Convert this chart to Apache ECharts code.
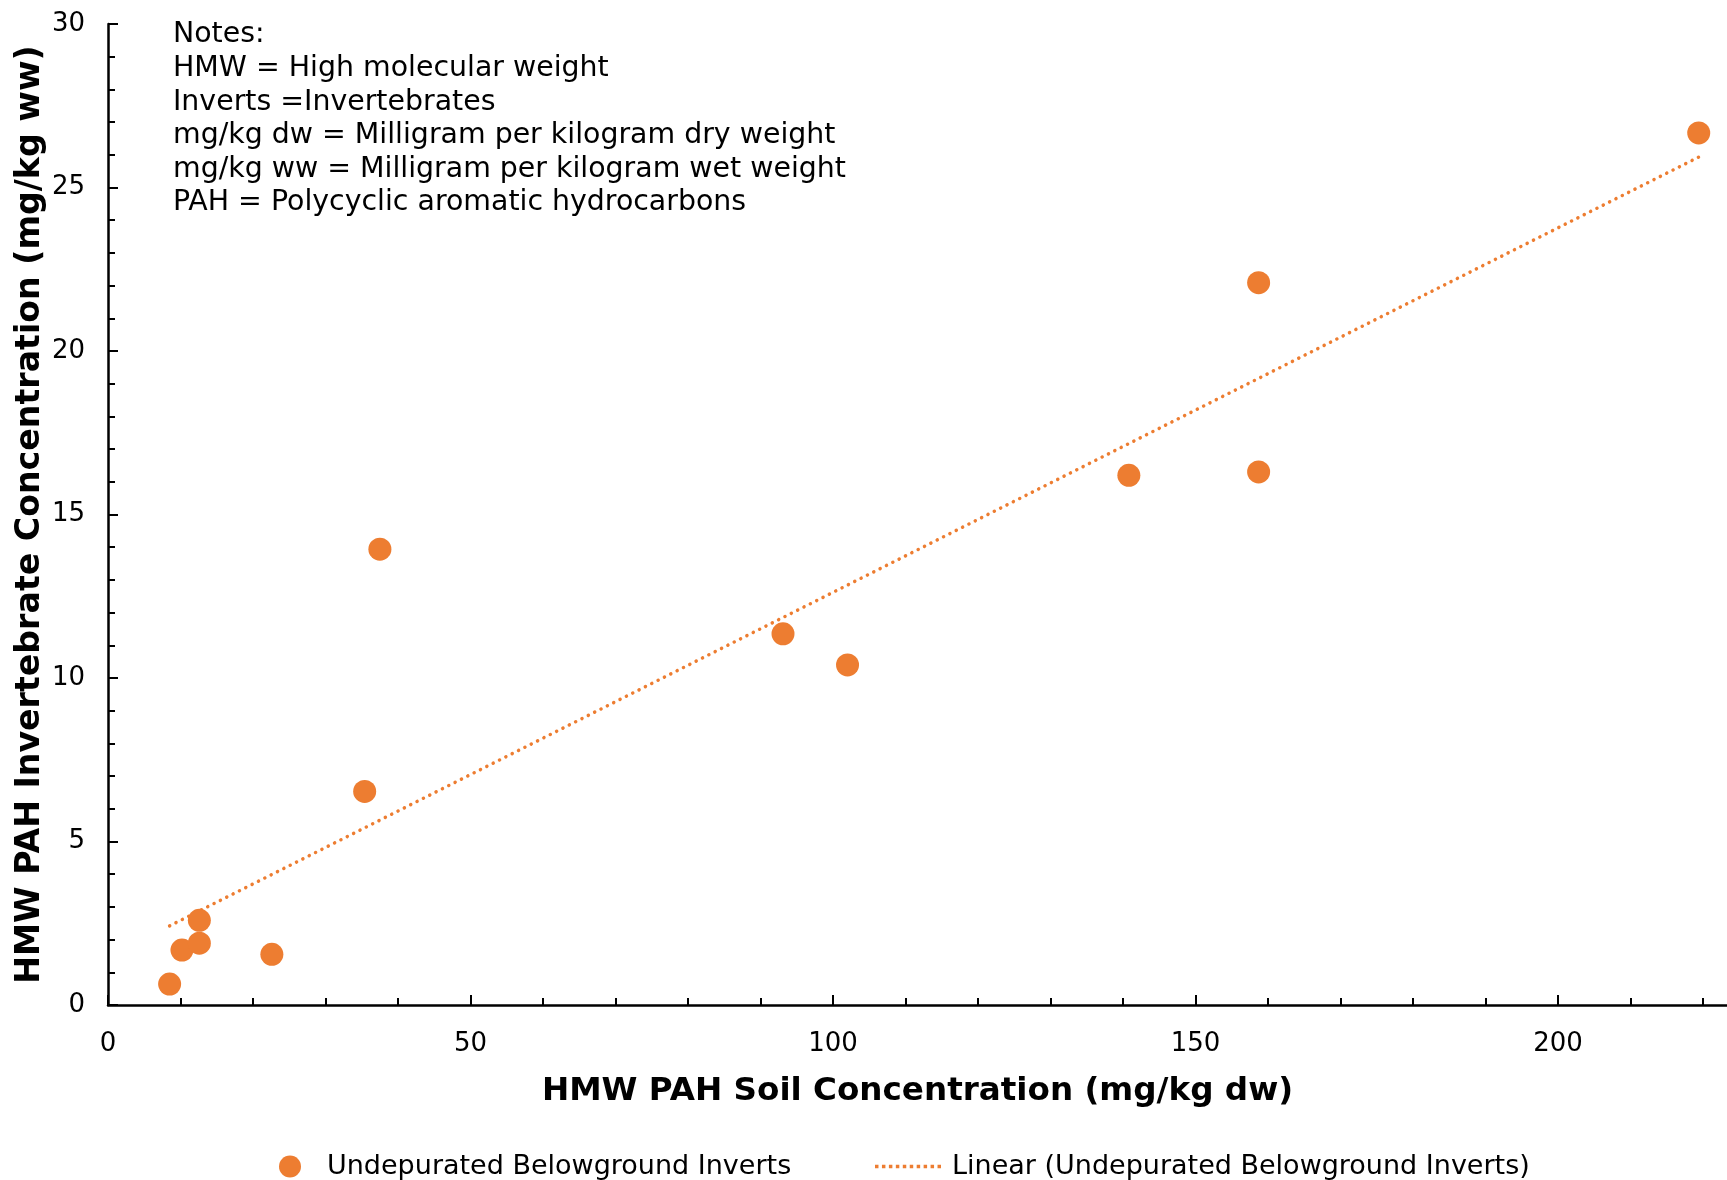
<!DOCTYPE html>
<html><head><meta charset="utf-8">
<script src="https://cdn.jsdelivr.net/npm/echarts@6/dist/echarts.min.js"></script>
<style>html,body{margin:0;padding:0;background:#fff}#c{width:1727px;height:1180px}</style>
</head><body><div id="c"></div>
<script>
const soilX = [8.5, 10.2, 12.6, 12.6, 22.6, 35.4, 37.5, 93.1, 102.0, 140.8, 158.7, 158.7, 219.4];
const invertY = [0.64, 1.68, 1.89, 2.59, 1.55, 6.53, 13.94, 11.35, 10.40, 16.2, 16.3, 22.09, 26.67];
const trendX = [8.5, 219.4];
const trendY = [2.42, 25.93];
const xMajorTicks = [0, 50, 100, 150, 200];
const xMinorTicks = [10, 20, 30, 40, 60, 70, 80, 90, 110, 120, 130, 140, 160, 170, 180, 190, 210, 220];
const seriesName = 'Undepurated Belowground Inverts';
const trendName = 'Linear (Undepurated Belowground Inverts)';
const notes = ['Notes:', 'HMW = High molecular weight', 'Inverts =Invertebrates',
  'mg/kg dw = Milligram per kilogram dry weight', 'mg/kg ww = Milligram per kilogram wet weight',
  'PAH = Polycyclic aromatic hydrocarbons'];
const xTitle = 'HMW PAH Soil Concentration (mg/kg dw)';
const yTitle = 'HMW PAH Invertebrate Concentration (mg/kg ww)';

const FONT = 'DejaVu Sans';
const ORANGE = '#ED7D31';
const X_MAX = 223.3;
const chart = echarts.init(document.getElementById('c'), null, {renderer: 'canvas'});
const nameStyle = {fontFamily: FONT, fontWeight: 'bold', fontSize: 32.6, color: '#000'};
const labelStyle = {fontFamily: FONT, fontSize: 26, color: '#000'};
let dotPath = 'path://';
for (let i = 0; i < 10; i++) dotPath += 'M' + (i * 7) + ',0h3.5v3.5h-3.5z';
chart.setOption({
  animation: false,
  grid: {left: 108, top: 24, right: 0, bottom: 175, containLabel: false},
  xAxis: [
    {type: 'value', min: 0, max: X_MAX, interval: 10,
     name: xTitle, nameLocation: 'middle', nameGap: 70, nameTextStyle: nameStyle,
     nameMoveOverlap: false,
     axisLine: {show: true, lineStyle: {color: '#000', width: 2.5}},
     axisTick: {show: true, inside: true, length: 10, customValues: xMajorTicks, lineStyle: {color: '#000', width: 2}},
     axisLabel: Object.assign({}, labelStyle, {margin: 26, customValues: xMajorTicks}),
     splitLine: {show: false}},
    {type: 'value', min: 0, max: X_MAX, interval: 10, position: 'bottom',
     axisLine: {show: false},
     axisTick: {show: true, inside: true, length: 7, customValues: xMinorTicks, lineStyle: {color: '#000', width: 2}},
     axisLabel: {show: false}, splitLine: {show: false}}
  ],
  yAxis: {
    type: 'value', min: 0, max: 30, interval: 5,
    name: yTitle, nameLocation: 'middle', nameGap: 61, nameMoveOverlap: false,
    nameTextStyle: Object.assign({}, nameStyle, {fontSize: 33.2}),
    axisLine: {show: true, lineStyle: {color: '#000', width: 2.5}},
    axisTick: {show: true, inside: true, length: 10, lineStyle: {color: '#000', width: 2}},
    minorTick: {show: true, splitNumber: 5, length: 7, lineStyle: {color: '#000', width: 2}},
    axisLabel: Object.assign({}, labelStyle, {margin: 23}),
    splitLine: {show: false}
  },
  legend: [
    {data: [seriesName], left: 274, top: 1148, itemWidth: 22, itemHeight: 22,
     textStyle: {fontFamily: FONT, fontSize: 27, color: '#000', padding: [0, 0, 0, 21]}},
    {data: [{name: trendName, icon: dotPath}], left: 870, top: 1148, itemWidth: 66, itemHeight: 3.5,
     textStyle: {fontFamily: FONT, fontSize: 27, color: '#000', padding: [0, 0, 0, 6]}}
  ],
  graphic: notes.map((t, i) => ({
    type: 'text', left: 173, top: 21 + i * 33.6,
    style: {text: t, font: '28.4px "' + FONT + '"', fill: '#000'}
  })),
  series: [
    {name: trendName, type: 'line', data: trendX.map((x, i) => [x, trendY[i]]),
     symbol: 'none', z: 1,
     lineStyle: {color: ORANGE, width: 3.5, type: [0.1, 7], cap: 'round'},
     itemStyle: {color: ORANGE}},
    {name: seriesName, type: 'scatter', data: soilX.map((x, i) => [x, invertY[i]]),
     symbol: 'circle', symbolSize: 23, z: 2,
     itemStyle: {color: ORANGE, opacity: 1}}
  ]
});
</script></body></html>
